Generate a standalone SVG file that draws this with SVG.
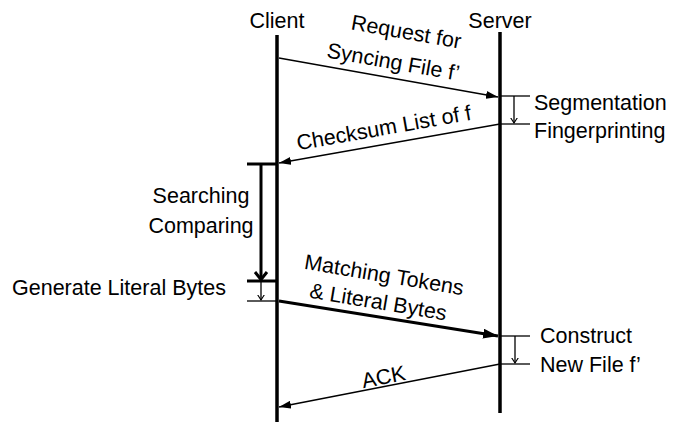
<svg xmlns="http://www.w3.org/2000/svg" width="690" height="428" viewBox="0 0 690 428">
<style>
text{font-family:"Liberation Sans",Arial,sans-serif;font-size:21.5px;fill:#000}
.life{stroke:#000;stroke-width:3.5;fill:none}
.msg{stroke:#000;stroke-width:1.3;fill:none}
.thick{stroke:#000;stroke-width:3;fill:none}
.tick{stroke:#000;stroke-width:1.3;fill:none}
</style>
<defs>
<marker id="tri" viewBox="0 0 12 8" refX="12" refY="4" markerWidth="12" markerHeight="8" orient="auto" markerUnits="userSpaceOnUse"><path d="M0,0 L12,4 L0,8 z" fill="#000"/></marker>
<marker id="triBig" viewBox="0 0 15 10" refX="15" refY="5" markerWidth="15" markerHeight="10" orient="auto" markerUnits="userSpaceOnUse"><path d="M0,0 L15,5 L0,10 z" fill="#000"/></marker>
<marker id="vee" viewBox="0 0 6 8" refX="5.5" refY="4" markerWidth="6" markerHeight="8" orient="auto" markerUnits="userSpaceOnUse"><path d="M0,0.5 L5.5,4 L0,7.5" fill="none" stroke="#000" stroke-width="1.1"/></marker>
</defs>
<g id="client">
<text x="277" y="28" text-anchor="middle">Client</text>
<line class="life" x1="277" y1="35" x2="277" y2="422"/>
</g>
<g id="server">
<text x="500" y="28" text-anchor="middle">Server</text>
<line class="life" x1="500" y1="32" x2="500" y2="413"/>
</g>
<g id="segmentation">
<line class="tick" x1="500" y1="96" x2="530" y2="96"/>
<line class="tick" x1="500" y1="124" x2="530" y2="124"/>
<line class="tick" x1="514" y1="96" x2="514" y2="123" marker-end="url(#vee)"/>
<text x="534" y="110">Segmentation</text>
<text x="534" y="138">Fingerprinting</text>
</g>
<g id="searching">
<line class="thick" x1="247" y1="164" x2="278" y2="164"/>
<line class="thick" x1="247" y1="281" x2="278" y2="281"/>
<line class="thick" x1="261" y1="164" x2="261" y2="279"/>
<path class="thick" d="M255,272 L261,279.5 L267,272"/>
<text x="201" y="203" text-anchor="middle">Searching</text>
<text x="201" y="233" text-anchor="middle">Comparing</text>
</g>
<g id="generate">
<line class="tick" x1="247" y1="301" x2="278" y2="301"/>
<line class="tick" x1="261" y1="282" x2="261" y2="300" marker-end="url(#vee)"/>
<text x="12" y="295">Generate Literal Bytes</text>
</g>
<g id="construct">
<line class="tick" x1="500" y1="336" x2="530" y2="336"/>
<line class="tick" x1="500" y1="364" x2="530" y2="364"/>
<line class="tick" x1="515" y1="336" x2="515" y2="363" marker-end="url(#vee)"/>
<text x="540" y="343">Construct</text>
<text x="540" y="372">New File f’</text>
</g>
<g id="connectors">
<line class="msg" x1="279" y1="58" x2="498" y2="97" marker-end="url(#tri)"/>
<line class="msg" x1="500" y1="124" x2="279" y2="163" marker-end="url(#tri)"/>
<line class="thick" x1="279" y1="301" x2="498" y2="336" marker-end="url(#triBig)"/>
<line class="msg" x1="500" y1="364" x2="279" y2="407" marker-end="url(#tri)"/>
</g>
<g id="labels">
<text x="405" y="39" text-anchor="middle" transform="rotate(10 405 39)">Request for</text>
<text x="392" y="69" text-anchor="middle" transform="rotate(10 392 69)">Syncing File f’</text>
<text x="385" y="135" text-anchor="middle" transform="rotate(-10 385 135)">Checksum List of f</text>
<text x="383" y="282" text-anchor="middle" transform="rotate(9.5 383 282)">Matching Tokens</text>
<text x="377" y="309" text-anchor="middle" transform="rotate(9.5 377 309)">&amp; Literal Bytes</text>
<text x="385" y="384" text-anchor="middle" transform="rotate(-11 385 384)">ACK</text>
</g>
</svg>
